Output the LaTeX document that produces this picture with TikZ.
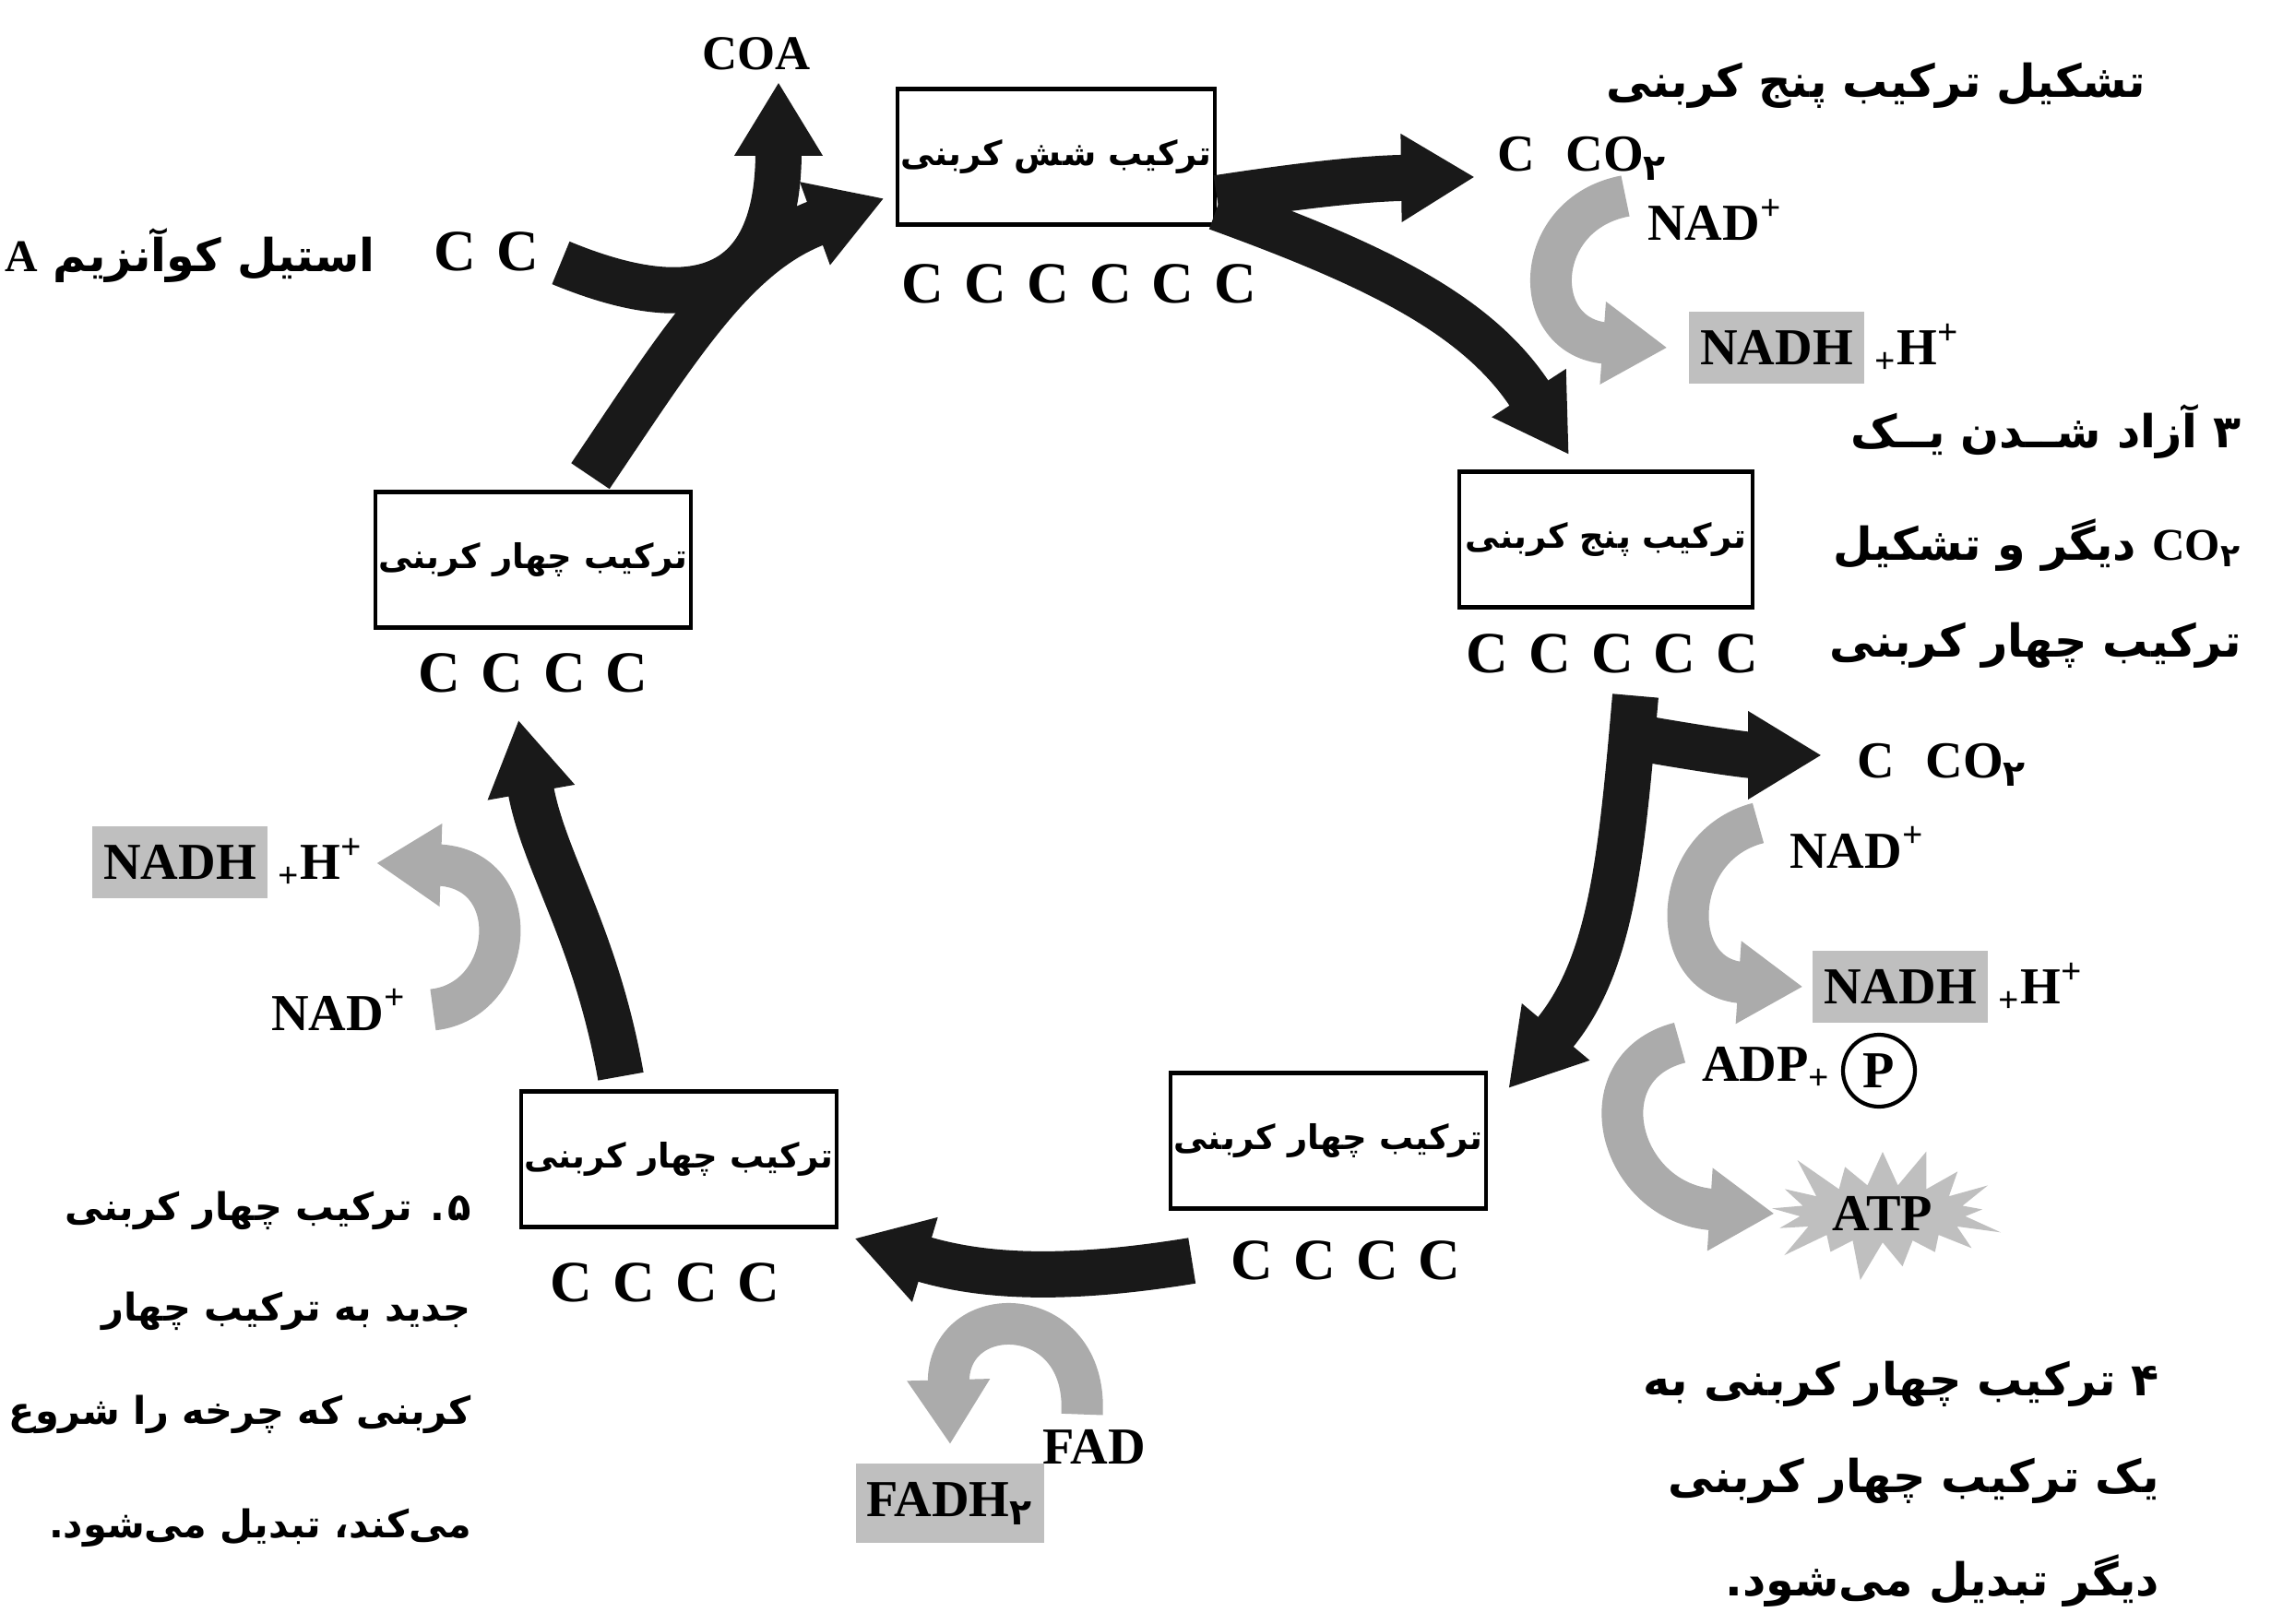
\documentclass[tikz,border=0pt]{standalone}
\usepackage{fontspec}
\setmainfont{Liberation Serif}
\newfontfamily\fa[Script=Arabic]{DejaVu Sans}
\TeXXeTstate=1
\usetikzlibrary{arrows.meta,shapes.symbols}
\definecolor{ink}{gray}{0.1}
\definecolor{dither}{gray}{0.67}
\definecolor{tint}{gray}{0.75}
\newcommand{\cgap}{\hspace{0.35em}}

\begin{document}
\begin{tikzpicture}
\tikzstyle{every node}+=[inner sep=1pt]
\tikzstyle{lbl}=[font=\fontsize{16}{18}\selectfont\bfseries]
\tikzstyle{crow}=[font=\fontsize{18}{20}\selectfont\bfseries]
\tikzstyle{cbox}=[draw, line width=1.3pt, minimum height=1.47cm, font=\fa\bfseries\fontsize{10.5}{12}\selectfont]
\tikzstyle{note}=[font=\fa\bfseries\fontsize{14}{16}\selectfont]
\tikzstyle{flow}=[draw=ink, line width=5mm, -{Triangle[length=8mm,width=9mm]}]
\tikzstyle{shuttle}=[draw=dither, line width=4.5mm, -{Triangle[length=7mm,width=8.5mm]}]
\tikzstyle{shade}=[lbl, fill=tint, inner xsep=1.2mm, inner ysep=2mm]
\useasboundingbox (0,0) rectangle (24.62,-17.61);

\node[cbox, minimum width=3.15cm] (six) at (11.45,-1.70) {\beginR ترکیب شش کربنی\endR};
\node[cbox, minimum width=3.18cm] (five) at (17.41,-5.85) {\beginR ترکیب پنج کربنی\endR};
\node[cbox, minimum width=3.29cm] (fourA) at (14.40,-12.37) {\beginR ترکیب چهار کربنی\endR};
\node[cbox, minimum width=2.94cm] (fourB) at (7.36,-12.57) {\beginR ترکیب چهار کربنی\endR};
\node[cbox, minimum width=3.01cm] (fourC) at (5.78,-6.07) {\beginR ترکیب چهار کربنی\endR};

\node[crow] (c6) at (11.70,-3.08) {C\cgap C\cgap C\cgap C\cgap C\cgap C};
\node[crow] (c5) at (17.48,-7.09) {C\cgap C\cgap C\cgap C\cgap C};
\node[crow] (c4a) at (14.59,-13.67) {C\cgap C\cgap C\cgap C};
\node[crow] (c4b) at (7.21,-13.91) {C\cgap C\cgap C\cgap C};
\node[crow] (c4c) at (5.78,-7.30) {C\cgap C\cgap C\cgap C};

\node[lbl, font=\fontsize{15}{17}\selectfont\bfseries] (coa) at (8.20,-0.58) {COA};
\node[crow] (cc) at (5.27,-2.73) {C\cgap C};
\node[note, anchor=east] (acetyl) at (4.11,-2.77) {\beginR استیل کوآنزیم {\rmfamily A}\endR};

\node[lbl, anchor=base west] (co2a) at (16.19,-1.86) {C\hspace{0.6em}CO\textsubscript{\fa ۲}};
\node[lbl, anchor=base west] (nadT) at (17.82,-2.61) {NAD\textsuperscript{+}};
\node[shade] (nadhT) at (19.26,-3.77) {NADH};
\node[lbl, anchor=base west, inner sep=0pt] (hT) at ([xshift=1mm]nadhT.base east) {\textsubscript{+}H\textsuperscript{+}};

\node[lbl, anchor=base west] (co2b) at (20.09,-8.43) {C\hspace{0.6em}CO\textsubscript{\fa ۲}};
\node[lbl, anchor=base west] (nadR) at (19.36,-9.41) {NAD\textsuperscript{+}};
\node[shade] (nadhR) at (20.60,-10.70) {NADH};
\node[lbl, anchor=base west, inner sep=0pt] (hR) at ([xshift=1mm]nadhR.base east) {\textsubscript{+}H\textsuperscript{+}};
\node[lbl, anchor=base west] (adp) at (18.41,-11.72) {ADP\textsubscript{+}};
\node[lbl, circle, draw, line width=1.2pt, minimum size=0.78cm, inner sep=0pt] (pi) at (20.37,-11.61) {P};
\node[lbl, starburst, fill=tint, minimum width=2.8cm, minimum height=1.2cm] (atp) at (20.41,-13.16) {ATP};

\node[lbl, anchor=base] (fad) at (11.86,-15.87) {FAD};
\node[shade] (fadh) at (10.30,-16.30) {FADH\textsubscript{\fa ۲}};

\node[shade] (nadhL) at (1.95,-9.35) {NADH};
\node[lbl, anchor=base west, inner sep=0pt] (hL) at ([xshift=1mm]nadhL.base east) {\textsubscript{+}H\textsuperscript{+}};
\node[lbl, anchor=base west] (nadL) at (2.90,-11.17) {NAD\textsuperscript{+}};

\node[note, anchor=east] (stepTwo) at (23.30,-0.93) {\beginR تشکیل ترکیب پنج کربنی\endR};
\node[note, anchor=east] (stepThreeA) at (24.34,-4.68) {\beginR ۳ آزاد شــدن یــک\endR};
\node[note, anchor=east] (stepThreeB) at (24.34,-5.91) {\beginR\beginL{\rmfamily CO\textsubscript{\fa ۲}}\endL{} دیگر و تشکیل\endR};
\node[note, anchor=east] (stepThreeC) at (24.34,-7.00) {\beginR ترکیب چهار کربنی\endR};
\node[note, anchor=east] (stepFourA) at (23.45,-15.01) {\beginR ۴ ترکیب چهار کربنی به\endR};
\node[note, anchor=east] (stepFourB) at (23.45,-16.06) {\beginR یک ترکیب چهار کربنی\endR};
\node[note, anchor=east] (stepFourC) at (23.45,-17.14) {\beginR دیگر تبدیل می^^^^200cشود\kern0pt.\endR};
\tikzstyle{note}=[font=\fa\bfseries\fontsize{11.8}{14}\selectfont]
\node[note, anchor=east] (stepFiveA) at (5.15,-13.13) {\beginR ۵\kern1pt. ترکیب چهار کربنی\endR};
\node[note, anchor=east] (stepFiveB) at (5.15,-14.22) {\beginR جدید به ترکیب چهار\endR};
\node[note, anchor=east] (stepFiveC) at (5.15,-15.34) {\beginR کربنی که چرخه را شروع\endR};
\node[note, anchor=east] (stepFiveD) at (5.15,-16.57) {\beginR می^^^^200cکند\kern0pt، تبدیل می^^^^200cشود\kern0pt.\endR};

\draw[flow] ([xshift=2mm,yshift=-1.2mm]cc.east) .. controls +(1.45,-0.60) and +(0,-2.3) .. ([xshift=2.4mm,yshift=-0.9mm]coa.south);
\draw[flow] ([xshift=6.2mm,yshift=1.5mm]fourC.north) to[out=56,in=200] ([xshift=-1.2mm,yshift=-4.5mm]six.west);
\draw[flow] ([yshift=-4.5mm]six.east) to[bend left=4] ([xshift=-2mm,yshift=-2mm]co2a.west);
\draw[flow] ([yshift=-5.5mm]six.east) to[out=-20,in=123] ([xshift=-4mm,yshift=1.6mm]five.north);
\draw[flow] ([xshift=2.5mm,yshift=-2mm]c5.south) to[out=-95,in=50] ([xshift=2.2mm,yshift=-1.9mm]fourA.north east);
\coordinate (fork) at ([xshift=2.5mm,yshift=-6.5mm]c5.south);
\draw[flow] (fork) to[out=-10,in=180] ([xshift=-3.4mm,yshift=1mm]co2b.west);
\draw[flow] ([xshift=-3.8mm]c4a.west) to[bend left=13] ([xshift=1.7mm,yshift=-1mm]fourB.south east);
\draw[flow] ([xshift=-6.3mm,yshift=1.4mm]fourB.north) to[out=100,in=-80] ([xshift=-1.6mm,yshift=-2.5mm]c4c.south);

\draw[shuttle] ([xshift=-2mm]nadT.north west) .. controls +(-1.02,-0.19) and +(-1.51,0.11) .. ([xshift=-2.3mm]nadhT.west);
\draw[shuttle] ([xshift=-3mm]nadR.north west) .. controls +(-0.97,-0.25) and +(-1.48,0.10) .. ([xshift=-1mm]nadhR.west);
\draw[shuttle] ([xshift=-2mm]adp.north west) .. controls +(-1.05,-0.27) and +(-1.69,0.11) .. ([xshift=-1.5mm]atp.west);
\draw[shuttle] ([xshift=-1.3mm,yshift=1.2mm]fad.north) .. controls +(0.07,1.24) and +(-0.04,1.58) .. ([yshift=2mm]fadh.north);
\draw[shuttle] ([xshift=2.5mm]nadL.east) .. controls +(0.90,0.10) and +(1.63,-0.05) .. ([xshift=1.4mm]hL.east);
\end{tikzpicture}
\end{document}
